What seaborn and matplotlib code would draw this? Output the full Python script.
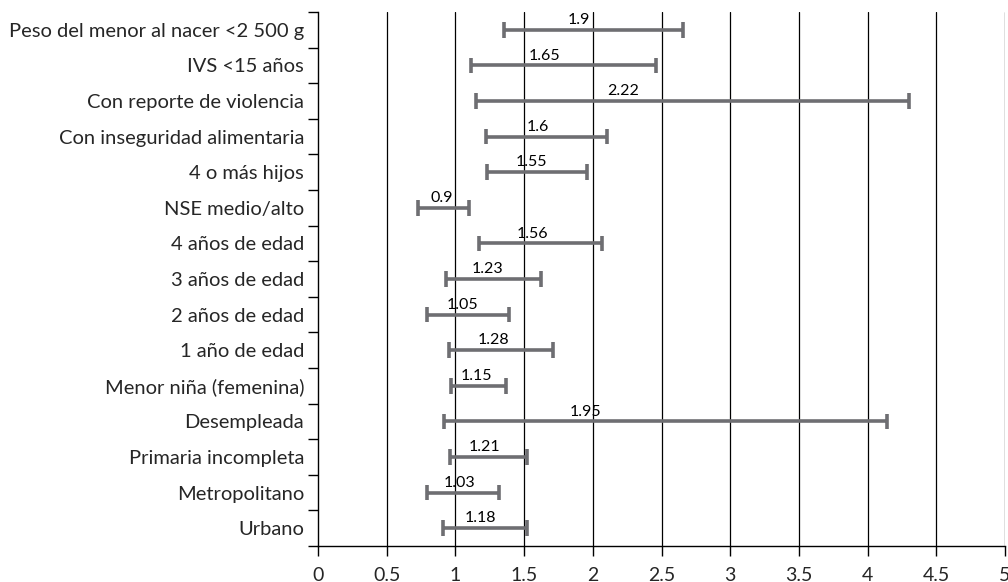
import matplotlib
matplotlib.use("Agg")
import matplotlib.pyplot as plt
import seaborn as sns
import pandas as pd
from matplotlib.ticker import FixedLocator

factors = [
    "Peso del menor al nacer <2 500 g",
    "IVS <15 años",
    "Con reporte de violencia",
    "Con inseguridad alimentaria",
    "4 o más hijos",
    "NSE medio/alto",
    "4 años de edad",
    "3 años de edad",
    "2 años de edad",
    "1 año de edad",
    "Menor niña (femenina)",
    "Desempleada",
    "Primaria incompleta",
    "Metropolitano",
    "Urbano",
]
odds_ratio = [1.9, 1.65, 2.22, 1.6, 1.55, 0.9, 1.56, 1.23, 1.05, 1.28, 1.15, 1.95, 1.21, 1.03, 1.18]
ci_low = [1.35, 1.11, 1.15, 1.22, 1.23, 0.73, 1.17, 0.93, 0.79, 0.95, 0.97, 0.92, 0.96, 0.79, 0.91]
ci_high = [2.66, 2.46, 4.30, 2.10, 1.96, 1.10, 2.07, 1.62, 1.39, 1.71, 1.37, 4.14, 1.52, 1.32, 1.52]
x_ticks = [0, 0.5, 1, 1.5, 2, 2.5, 3, 3.5, 4, 4.5, 5]
x_tick_labels = ["0", "0.5", "1", "1.5", "2", "2.5", "3", "3.5", "4", "4.5", "5"]

sns.set_style("white")
plt.rcParams["font.family"] = ["Lato", "DejaVu Sans"]

df = pd.DataFrame({
    "factor": factors * 2,
    "value": ci_low + ci_high,
})

fig = plt.figure(figsize=(10.08, 5.82), dpi=100)
ax = fig.add_axes([0.3155, 0.0619, 0.6815, 0.9175])

bar_color = "#6e6e72"
sns.pointplot(
    data=df, x="value", y="factor", order=factors, orient="h",
    estimator="mean", errorbar=lambda v: (v.min(), v.max()),
    capsize=0.44, color=bar_color, linestyle="none", marker="",
    err_kws={"linewidth": 2.6, "solid_capstyle": "butt"}, ax=ax, zorder=3,
)

ax.set_xlim(0, 5)
ax.set_ylim(len(factors) - 0.5, -0.5)
ax.set_xticks(x_ticks)
ax.set_xticklabels(x_tick_labels, fontsize=14)
ax.set_xlabel("")
ax.set_ylabel("")

# category labels centred, tick marks at category boundaries
ax.yaxis.set_major_locator(FixedLocator(range(len(factors))))
ax.set_yticklabels(factors, fontsize=14.5)
ax.yaxis.set_minor_locator(FixedLocator([i - 0.5 for i in range(len(factors) + 1)]))
ax.tick_params(axis="y", which="major", length=0, pad=10)
ax.tick_params(axis="y", which="minor", length=7, width=1, color="black", left=True)
ax.tick_params(axis="x", which="major", length=7, width=1, color="black", bottom=True, pad=8)

for x in x_ticks[1:]:
    ax.axvline(x, color="black", linewidth=0.9, zorder=1)

for s in ["top", "right"]:
    ax.spines[s].set_visible(False)
for s in ["left", "bottom"]:
    ax.spines[s].set_color("black")
    ax.spines[s].set_linewidth(1)

for i, orv in enumerate(odds_ratio):
    ax.annotate(f"{orv:g}", xy=(orv, i), xytext=(0, 2), textcoords="offset points",
                ha="center", va="bottom", fontsize=11.5, color="black")

fig.savefig("out.png", dpi=100)
